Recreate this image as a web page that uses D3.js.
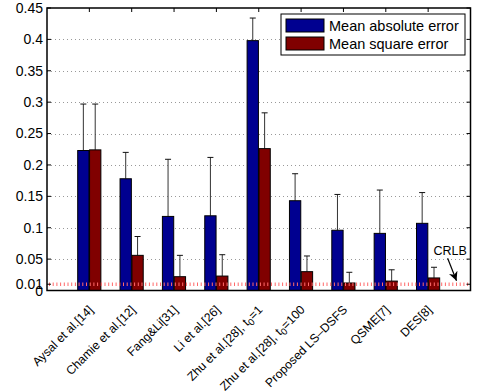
<!DOCTYPE html>
<html><head><meta charset="utf-8">
<script src="https://cdn.jsdelivr.net/npm/d3@7"></script>
<style>body{margin:0;background:#fff}svg{display:block}text{font-family:"Liberation Sans",Arial,sans-serif}</style>
</head><body>
<svg id="c" width="482" height="392"></svg>
<script>
const categories = [
  ["Aysal et al.[14]"], ["Chamie et al.[12]"], ["Fang&Li[31]"], ["Li et al.[26]"],
  ["Zhu et al.[28], t", "0", "=1"], ["Zhu et al.[28], t", "0", "=100"],
  ["Proposed LS\u2013DSFS"], ["QSME[7]"], ["DES[8]"]
];
const mae    = [0.223, 0.178, 0.118, 0.119, 0.398, 0.143, 0.096, 0.091, 0.107];
const maeErr = [0.074, 0.042, 0.091, 0.093, 0.036, 0.043, 0.057, 0.069, 0.049];
const mse    = [0.224, 0.056, 0.022, 0.023, 0.226, 0.030, 0.012, 0.015, 0.020];
const mseErr = [0.073, 0.030, 0.034, 0.034, 0.057, 0.025, 0.017, 0.018, 0.017];
const yTicks = [0, 0.01, 0.05, 0.1, 0.15, 0.2, 0.25, 0.3, 0.35, 0.4, 0.45];
const yTickLabels = ["0", "0.01", "0.05", "0.1", "0.15", "0.2", "0.25", "0.3", "0.35", "0.4", "0.45"];
const gridValues = [0.05, 0.1, 0.15, 0.2, 0.25, 0.3, 0.35, 0.4];
const crlb = 0.01;
const seriesNames = ["Mean absolute error", "Mean square error"];
const seriesColors = ["#000090", "#800000"];

const svg = d3.select("#c");
const x = d3.scaleLinear().domain([0, 10]).range([47, 470.5]);
const y = d3.scaleLinear().domain([0, 0.45]).range([290.5, 8]);
const L = 47, R = 470.5, T = 8, B = 290.5;

// grid
svg.append("g").selectAll("line").data(gridValues).join("line")
  .attr("x1", L).attr("x2", R).attr("y1", d => Math.round(y(d)) + 0.5).attr("y2", d => Math.round(y(d)) + 0.5)
  .attr("stroke", "#999").attr("stroke-width", 1).attr("stroke-dasharray", "1,3");

const bw = 0.267;
const groups = [
  {vals: mae, err: mae.map((v,i)=>v+maeErr[i]), off: -0.275, color: seriesColors[0]},
  {vals: mse, err: mse.map((v,i)=>v+mseErr[i]), off: 0.005, color: seriesColors[1]}
];
const idx = d3.range(categories.length);
groups.forEach(g => {
  const eg = svg.append("g");
  eg.selectAll("line.v").data(idx).join("line")
    .attr("x1", i => x(i + 1 + g.off + bw/2)).attr("x2", i => x(i + 1 + g.off + bw/2))
    .attr("y1", i => y(g.vals[i])).attr("y2", i => y(g.err[i]))
    .attr("stroke", "#333").attr("stroke-width", 1);
  eg.selectAll("line.h").data(idx).join("line")
    .attr("x1", i => x(i + 1 + g.off + bw/2) - 3).attr("x2", i => x(i + 1 + g.off + bw/2) + 3)
    .attr("y1", i => y(g.err[i])).attr("y2", i => y(g.err[i]))
    .attr("stroke", "#111").attr("stroke-width", 1);
});
groups.forEach(g => {
  svg.append("g").selectAll("rect").data(idx).join("rect")
    .attr("x", i => x(i + 1 + g.off)).attr("width", x(bw) - x(0))
    .attr("y", i => y(g.vals[i])).attr("height", i => y(0) - y(g.vals[i]))
    .attr("fill", g.color).attr("stroke", "#000").attr("stroke-width", 1);
});

// CRLB line
svg.append("line").attr("x1", L + 2).attr("x2", R - 1)
  .attr("y1", y(crlb)).attr("y2", y(crlb))
  .attr("stroke", "#ff6a6a").attr("stroke-width", 3.5).attr("stroke-dasharray", "1,2.7");

// axes frame
svg.append("rect").attr("x", L).attr("y", T).attr("width", R - L).attr("height", B - T)
  .attr("fill", "none").attr("stroke", "#000").attr("stroke-width", 1.5);

// y ticks
const yt = svg.append("g");
yt.selectAll("line.l").data(yTicks).join("line")
  .attr("x1", L).attr("x2", L + 4).attr("y1", d => y(d)).attr("y2", d => y(d)).attr("stroke", "#000");
yt.selectAll("line.r").data(yTicks).join("line")
  .attr("x1", R).attr("x2", R - 4).attr("y1", d => y(d)).attr("y2", d => y(d)).attr("stroke", "#000");
yt.selectAll("text").data(yTicks).join("text")
  .attr("x", L - 4).attr("y", d => y(d) + (d === 0 ? 1 : 0)).attr("dy", "0.35em")
  .attr("text-anchor", "end").attr("font-size", 14).text((d, i) => yTickLabels[i]);

// x ticks (top)
svg.append("g").selectAll("line").data(idx).join("line")
  .attr("x1", i => x(i + 1)).attr("x2", i => x(i + 1)).attr("y1", T).attr("y2", T + 4).attr("stroke", "#000");

// x labels
const xl = svg.append("g").selectAll("text").data(idx).join("text")
  .attr("transform", i => `translate(${x(i + 1) + 4.5},${B + 20}) rotate(-45)`)
  .attr("text-anchor", "end").attr("font-size", 12.2);
xl.each(function(i) {
  const t = d3.select(this), parts = categories[i];
  t.append("tspan").text(parts[0]);
  if (parts.length > 1) {
    t.append("tspan").attr("font-size", 9.5).attr("dy", 3).text(parts[1]);
    t.append("tspan").attr("dy", -3).text(parts[2]);
  }
});

// legend
const lg = svg.append("g");
lg.append("rect").attr("x", 281).attr("y", 14).attr("width", 184).attr("height", 41)
  .attr("fill", "#fff").attr("stroke", "#000").attr("stroke-width", 1);
seriesNames.forEach((n, i) => {
  lg.append("rect").attr("x", 286).attr("y", 19 + i * 18).attr("width", 38).attr("height", 13)
    .attr("fill", seriesColors[i]).attr("stroke", "#000");
  lg.append("text").attr("x", 329).attr("y", 25.5 + i * 18).attr("dy", "0.35em")
    .attr("font-size", 14.5).text(n);
});

// CRLB annotation
svg.append("defs").append("marker").attr("id", "ah").attr("viewBox", "0 0 10 10")
  .attr("refX", 10).attr("refY", 5).attr("markerWidth", 9).attr("markerHeight", 9)
  .attr("orient", "auto").attr("markerUnits", "userSpaceOnUse")
  .append("path").attr("d", "M0,0 L10,5 L0,10 L3,5 Z").attr("fill", "#000");
svg.append("line").attr("x1", x(9.46)).attr("y1", y(0.0513)).attr("x2", x(9.67)).attr("y2", y(0.0156))
  .attr("stroke", "#000").attr("stroke-width", 1.2).attr("marker-end", "url(#ah)");
svg.append("text").attr("x", x(9.52)).attr("y", y(0.0558)).attr("text-anchor", "middle")
  .attr("font-size", 12.5).text("CRLB");
</script>
</body></html>
